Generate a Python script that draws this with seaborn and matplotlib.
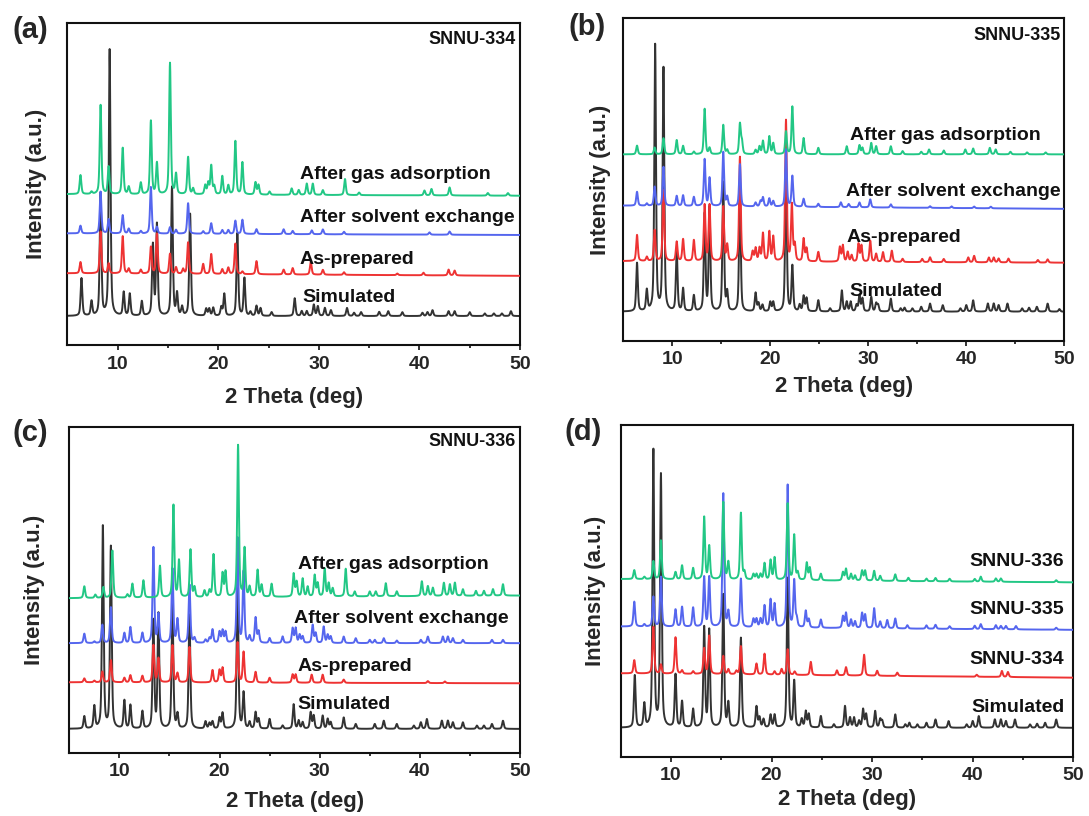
import numpy as np
import matplotlib
matplotlib.use('Agg')
import matplotlib.pyplot as plt
import seaborn as sns

sns.set_style('ticks')
plt.rcParams['font.family'] = ['Liberation Sans', 'DejaVu Sans']
plt.rcParams['font.weight'] = 'bold'
plt.rcParams['axes.labelweight'] = 'bold'

# ---- peak lists (2theta, height in axis units 0-100) ----
# panel (a) SNNU-334
A_SIM_POS = [6.4, 7.4, 8.3, 9.2, 10.6, 11.2, 12.4, 13.5, 13.9, 15.4, 15.9, 16.4, 17.2, 18.8, 19.1, 19.5,
             20.3, 20.6, 21.9, 22.6, 23.2, 23.8, 24.2, 25.3, 27.6, 28.3, 28.8, 29.5, 29.9, 30.6, 31.2,
             32.8, 33.5, 34.2, 36.0, 36.9, 38.3, 40.3, 40.8, 41.3, 42.9, 43.5, 45.0, 46.5, 47.4, 48.2, 49.1]
A_SIM_HT = [11.7, 4.5, 38, 82.7, 7.3, 6.8, 4.5, 21.9, 28.3, 40, 6.8, 2.7, 31.7, 2.2, 2.2, 2.5,
            2.7, 6.8, 25.7, 11.7, 1.2, 3.1, 2.4, 1.2, 5.5, 1.5, 1.5, 3.5, 3, 2.5, 1.8,
            2.5, 1, 1.2, 1.3, 1.5, 1.2, 1, 1.2, 1.8, 1.5, 1.5, 1.2, 0.8, 0.8, 0.8, 1.5]
A_PREP_POS = [6.3, 8.3, 9.1, 10.5, 11.1, 12.3, 13.3, 13.9, 15.2, 15.8, 16.5, 17.0, 18.5, 19.3, 20.4, 21.0,
              21.7, 22.4, 23.8, 26.5, 27.4, 29.2, 30.4, 32.5, 37.8, 40.4, 42.9, 43.5]
A_PREP_HT = [3.5, 13.0, 3.1, 11.6, 1.5, 1.2, 8.3, 12.4, 6.2, 2.0, 1.5, 9.8, 3.1, 6.2, 1.5, 2.0,
             9.5, 0.8, 4.1, 1.5, 2.0, 4.0, 1.5, 0.8, 0.5, 0.8, 1.8, 1.5]
A_SOLV_POS = [6.3, 8.3, 9.1, 10.5, 11.1, 12.3, 13.3, 13.9, 15.2, 15.8, 17.0, 18.5, 19.3, 20.4, 21.0, 21.7,
              22.4, 23.8, 26.5, 27.4, 29.3, 30.4, 32.5, 41.0, 43.0]
A_SOLV_HT = [2.4, 13.0, 4.4, 5.7, 1.5, 0.8, 14.5, 2.0, 2.0, 1.2, 9.5, 0.8, 3.3, 1.2, 1.2, 4.1,
             4.4, 1.5, 1.5, 1.0, 1.2, 1.5, 0.8, 0.7, 1.0]
A_GAS_POS = [6.3, 7.4, 8.3, 9.1, 10.5, 11.1, 12.3, 13.3, 13.9, 15.2, 15.8, 17.0, 17.5, 18.7, 19.0, 19.3,
             19.6, 20.4, 21.0, 21.7, 22.4, 23.7, 24.0, 25.1, 27.3, 28.0, 28.8, 29.4, 30.4, 32.6, 34.0,
             40.5, 41.2, 43.0, 46.8, 48.8]
A_GAS_HT = [5.9, 0.7, 27.7, 8.5, 14.4, 2.3, 3.6, 22.8, 9.7, 40.8, 6.2, 11.6, 1.8, 2.8, 3.5, 8.9,
            2.5, 5.7, 2.8, 16.6, 10.0, 3.8, 3.0, 1.0, 2.0, 1.5, 3.5, 3.5, 1.5, 5.0, 0.8,
            1.5, 2.0, 2.5, 0.8, 0.8]
A_BASE_LEFT = [9.0, 22.3, 34.7, 46.9]
A_BASE_RIGHT = [9.0, 21.5, 34.2, 46.4]

# panel (b) SNNU-335
B_SIM_POS = [6.4, 7.4, 8.25, 9.1, 10.45, 11.1, 12.2, 13.3, 13.8, 15.2, 15.6, 16.9, 18.5, 18.8, 19.2, 20.0,
             20.3, 21.6, 22.25, 23.0, 23.4, 23.7, 24.9, 26.1, 27.3, 27.8, 28.2, 28.8, 29.1, 29.4, 30.3,
             30.8, 31.0, 32.3, 33.3, 33.7, 34.5, 35.4, 36.3, 37.6, 39.4, 40.0, 40.7, 42.2, 42.8, 43.3,
             44.2, 45.7, 46.4, 47.2, 48.3, 49.5]
B_SIM_HT = [15.0, 6.4, 82.5, 75.3, 19.0, 7.0, 4.9, 30.0, 32.0, 40.0, 5.7, 38.0, 5.7, 2.5, 2.0, 2.9,
            2.9, 45.0, 14.0, 2.0, 4.7, 4.1, 3.5, 1.0, 6.5, 3.0, 3.0, 2.0, 5.0, 4.0, 4.5,
            2.5, 2.0, 4.0, 1.0, 1.2, 1.0, 1.5, 2.5, 2.0, 1.0, 2.0, 3.5, 2.5, 2.5, 2.0,
            2.5, 1.0, 1.2, 1.5, 2.5, 0.8]
B_PREP_POS = [6.4, 7.4, 8.2, 9.1, 10.45, 11.1, 12.2, 13.3, 13.8, 15.2, 15.6, 16.9, 18.2, 18.5, 18.9, 19.25,
              19.9, 20.3, 21.6, 22.2, 22.5, 23.4, 23.7, 24.9, 27.1, 27.4, 27.9, 28.3, 29.0, 29.3, 30.2,
              30.8, 31.5, 32.4, 33.5, 35.5, 36.3, 37.7, 40.2, 40.8, 42.3, 42.8, 43.3, 44.3, 47.3, 48.3]
B_PREP_HT = [8.1, 1.3, 9.6, 22.0, 6.0, 6.8, 6.5, 17.4, 17.4, 16.9, 5.0, 32.4, 3.0, 4.0, 4.0, 8.6,
             9.1, 7.6, 43.7, 17.4, 5.0, 7.0, 4.0, 3.0, 4.5, 5.0, 3.0, 2.0, 5.5, 5.0, 6.5,
             2.5, 3.0, 3.5, 1.0, 1.0, 1.5, 1.0, 1.5, 2.0, 1.5, 1.5, 1.2, 1.2, 0.8, 1.0]
B_SOLV_POS = [6.4, 7.4, 8.2, 9.1, 10.45, 11.1, 12.2, 13.3, 13.8, 15.2, 15.6, 16.9, 18.5, 19.0, 19.25, 19.9,
              20.3, 21.6, 22.25, 23.4, 24.9, 27.2, 28.0, 29.1, 30.2, 32.3, 36.3, 38.5, 40.8, 42.5]
B_SOLV_HT = [4.3, 0.7, 5.9, 12.1, 3.1, 3.3, 2.8, 14.5, 8.7, 16.8, 2.8, 13.1, 1.2, 1.7, 2.8, 2.5,
             1.7, 17.8, 9.5, 2.5, 1.0, 1.5, 1.0, 1.5, 2.5, 1.0, 0.5, 0.5, 0.5, 0.5]
B_GAS_POS = [6.4, 8.2, 9.1, 10.45, 11.1, 12.2, 13.3, 13.8, 15.2, 15.6, 16.9, 17.1, 18.5, 18.9, 19.25, 19.9,
             20.3, 21.6, 22.25, 23.4, 24.9, 27.8, 29.1, 29.4, 30.3, 30.8, 32.3, 33.5, 35.4, 36.2, 37.7,
             39.9, 40.7, 42.4, 43.0, 44.5, 46.2, 48.1]
B_GAS_HT = [2.7, 2.1, 5.0, 4.4, 2.6, 0.8, 14.1, 1.9, 9.1, 1.3, 9.3, 3.9, 1.3, 2.4, 4.1, 5.5,
            3.4, 7.0, 14.8, 5.0, 2.0, 2.5, 2.8, 2.0, 3.5, 2.5, 2.5, 1.0, 0.8, 1.5, 1.2,
            1.5, 1.8, 2.0, 1.5, 0.8, 0.6, 0.6]
B_BASE_LEFT = [9.0, 24.7, 41.9, 57.8]
B_BASE_RIGHT = [9.0, 24.2, 40.9, 57.8]

# panel (c) SNNU-336
C_SIM_POS = [6.5, 7.5, 8.35, 9.15, 10.5, 11.1, 12.3, 13.4, 13.9, 15.3, 15.8, 17.0, 18.6, 19.0, 19.3, 20.0,
             20.3, 21.8, 22.4, 23.0, 23.6, 23.9, 25.0, 26.3, 27.4, 27.9, 28.3, 29.1, 29.4, 30.3, 30.8,
             31.1, 32.4, 33.6, 35.5, 36.4, 37.7, 39.4, 40.1, 40.7, 42.2, 42.8, 43.3, 44.3, 45.7, 46.4,
             47.2, 48.3]
C_SIM_HT = [3.8, 6.8, 62.0, 55.7, 8.6, 7.2, 5.3, 33.0, 35.0, 38.0, 4.3, 35.0, 2.2, 1.7, 2.2, 3.3,
            4.8, 45.0, 10.9, 2.0, 5.0, 3.0, 3.0, 1.0, 7.5, 2.5, 2.0, 5.0, 4.0, 4.0, 3.0,
            2.0, 3.5, 1.5, 1.5, 2.5, 1.5, 1.0, 2.0, 3.0, 2.5, 2.5, 2.0, 2.0, 1.0, 1.0,
            1.5, 2.5]
C_PREP_POS = [6.5, 7.5, 8.3, 9.15, 10.5, 11.1, 12.3, 13.4, 13.9, 15.3, 15.8, 17.0, 19.3, 20.0, 20.3, 21.8,
              22.4, 23.6, 25.0, 27.3, 27.6, 29.2, 30.3, 32.4, 40.8, 42.5]
C_PREP_HT = [1.2, 0.5, 3.3, 6.8, 1.4, 2.2, 2.0, 11.4, 7.4, 11.4, 2.8, 10.9, 3.8, 3.8, 4.5, 12.3,
             9.4, 3.3, 1.5, 2.5, 2.5, 2.5, 2.5, 1.0, 0.6, 0.5]
C_SOLV_POS = [6.5, 7.5, 8.3, 9.15, 10.5, 11.1, 12.3, 13.4, 13.9, 15.3, 15.8, 17.0, 17.5, 18.6, 19.0, 19.3,
              20.0, 20.3, 20.6, 21.8, 22.4, 23.0, 23.6, 23.9, 25.0, 26.3, 27.3, 27.6, 28.0, 28.3, 29.3,
              29.6, 30.4, 30.8, 31.1, 32.4, 33.6, 35.0, 35.5, 36.4, 37.7, 40.1, 40.8, 42.3, 42.8, 43.3,
              44.3, 47.2, 48.3]
C_SOLV_HT = [2.9, 0.5, 5.6, 11.0, 3.1, 4.9, 3.1, 29.3, 8.7, 22.8, 7.2, 17.9, 1.5, 1.0, 1.5, 4.1,
             3.4, 3.8, 3.4, 32.2, 21.8, 2.0, 7.7, 3.5, 1.5, 2.0, 4.5, 4.5, 2.5, 2.0, 5.5,
             3.0, 5.0, 2.5, 2.0, 2.0, 1.5, 1.0, 1.0, 1.5, 0.8, 1.0, 2.0, 2.0, 2.0, 1.5,
             1.0, 1.0, 1.0]
C_GAS_POS = [6.5, 7.6, 8.4, 9.3, 10.8, 11.3, 12.4, 14.05, 15.4, 15.95, 17.1, 17.5, 18.5, 19.0, 19.4, 20.3,
             20.6, 21.85, 22.5, 23.0, 23.8, 24.2, 25.2, 27.4, 27.7, 28.3, 28.8, 29.5, 29.8, 30.5, 30.9,
             31.3, 32.6, 33.5, 35.0, 35.6, 36.6, 37.7, 40.2, 40.8, 41.3, 42.4, 43.0, 43.5, 44.3, 45.6,
             46.4, 47.3, 48.3]
C_GAS_HT = [3.6, 1.0, 3.3, 14.5, 1.0, 4.3, 5.3, 9.7, 28.3, 11.2, 14.6, 3.0, 2.0, 2.0, 13.1, 7.2,
            7.7, 46.5, 14.8, 3.0, 8.2, 3.6, 4.0, 7.0, 4.5, 5.5, 3.0, 6.5, 4.0, 8.5, 4.0,
            2.5, 8.5, 1.5, 1.5, 1.5, 4.0, 1.5, 4.5, 3.0, 2.5, 4.0, 3.5, 4.0, 2.0, 1.5,
            1.5, 2.0, 3.5]
C_BASE_LEFT = [7.3, 21.6, 33.6, 47.4]
C_BASE_RIGHT = [7.3, 21.3, 33.6, 48.2]

# panel (d) comparison
D_SIM_POS = [6.4, 7.35, 8.25, 9.0, 10.45, 11.1, 12.2, 13.3, 13.8, 15.2, 15.7, 16.95, 18.5, 18.8, 19.2, 19.9,
             20.3, 21.6, 22.25, 23.0, 23.4, 23.7, 24.9, 26.2, 27.3, 27.8, 28.2, 28.7, 29.1, 29.4, 30.3,
             30.8, 31.0, 32.3, 33.3, 33.7, 34.5, 35.4, 36.3, 37.6, 39.4, 40.0, 40.6, 42.2, 42.8, 43.3,
             44.2, 45.7, 46.4, 47.2, 48.3]
D_SIM_HT = [15.7, 7.0, 83.3, 75.9, 15.9, 7.8, 5.5, 30.0, 29.2, 40.0, 7.2, 27.0, 6.3, 3.0, 2.5, 3.8,
            3.8, 45.0, 13.9, 2.5, 4.8, 4.0, 3.5, 1.0, 6.5, 3.0, 3.0, 2.0, 5.5, 4.0, 5.0,
            2.5, 2.0, 4.0, 1.0, 1.5, 1.0, 1.5, 2.5, 2.0, 1.0, 2.0, 3.5, 2.5, 2.5, 2.0,
            2.5, 1.0, 1.2, 1.5, 2.5]
D_334_POS = [6.35, 8.25, 9.0, 10.45, 11.1, 12.2, 13.3, 13.8, 15.2, 15.7, 16.5, 16.95, 18.5, 19.3, 20.3, 21.0,
             21.6, 22.3, 23.9, 26.5, 27.4, 29.2, 30.5, 32.5, 40.4, 42.9, 43.5]
D_334_HT = [4.0, 14.1, 2.7, 11.0, 1.0, 0.8, 7.7, 11.5, 5.5, 1.5, 1.0, 8.5, 3.3, 6.3, 1.0, 1.7,
            7.7, 1.0, 4.0, 1.5, 2.5, 6.3, 1.5, 1.0, 0.6, 1.8, 1.5]
D_335_POS = [6.35, 7.35, 8.25, 9.0, 10.45, 11.1, 12.2, 13.3, 13.8, 15.2, 15.7, 16.95, 18.2, 18.5, 18.9, 19.3,
             19.9, 20.3, 21.6, 22.25, 22.5, 23.4, 23.7, 24.9, 27.1, 27.4, 27.9, 28.3, 29.0, 29.3, 30.2,
             30.8, 31.5, 32.3, 33.5, 35.4, 36.3, 37.7, 40.2, 40.8, 42.3, 42.8, 43.3, 44.3, 48.3]
D_335_HT = [7.5, 0.7, 9.0, 15.0, 5.2, 6.0, 5.8, 15.0, 15.0, 40.2, 4.5, 14.6, 2.5, 2.5, 2.5, 6.5,
            8.3, 7.0, 42.9, 14.0, 2.5, 5.0, 2.5, 2.5, 3.5, 4.5, 2.5, 2.0, 4.5, 4.0, 6.0,
            2.0, 2.5, 3.0, 1.0, 1.0, 1.2, 0.8, 1.0, 1.5, 1.2, 1.0, 1.0, 1.0, 0.6]
D_336_POS = [6.35, 7.35, 8.25, 9.0, 10.45, 11.1, 12.2, 13.3, 13.8, 15.2, 15.7, 16.95, 17.3, 18.2, 18.5, 18.9,
             19.3, 19.9, 20.3, 21.6, 22.25, 22.6, 23.5, 23.8, 24.9, 27.1, 27.4, 27.9, 28.3, 29.0, 29.3,
             30.2, 30.8, 32.3, 33.6, 35.4, 36.3, 37.7, 40.2, 40.8, 42.3, 42.8, 48.3]
D_336_HT = [2.7, 0.7, 5.4, 11.7, 2.2, 4.2, 3.4, 18.8, 10.0, 23.3, 5.2, 20.1, 2.2, 1.7, 1.7, 1.7,
            5.0, 5.9, 6.7, 23.0, 13.5, 2.2, 5.2, 3.7, 2.0, 2.5, 3.5, 2.0, 1.5, 3.0, 3.0,
            3.0, 1.5, 2.0, 1.0, 0.8, 1.0, 0.8, 0.8, 1.5, 1.0, 1.0, 0.6]
D_BASE_LEFT = [8.7, 25.1, 39.2, 53.5]
D_BASE_RIGHT = [8.7, 23.8, 38.2, 52.5]

A_LABELS = ['Simulated', 'As-prepared', 'After solvent exchange', 'After gas adsorption']
D_LABELS = ['Simulated', 'SNNU-334', 'SNNU-335', 'SNNU-336']
COLORS = ['#333333', '#EE3333', '#5566EE', '#22C785']

# ---- layout (pixels in the 1089x816 figure) ----
FIG_W, FIG_H = 1089, 816
PANELS = [
    dict(letter='(a)', box=(67.4, 23.3, 520, 345), title='SNNU-334', title_y=95.0,
         series=[(A_SIM_POS, A_SIM_HT), (A_PREP_POS, A_PREP_HT), (A_SOLV_POS, A_SOLV_HT), (A_GAS_POS, A_GAS_HT)],
         base=(A_BASE_LEFT, A_BASE_RIGHT), labels=A_LABELS,
         label_x=[28.35, 28.1, 28.1, 28.1], label_y=[14.9, 26.6, 39.5, 53.1], ha='left',
         letter_xy=(30, 30), ylab_dx=31, xlab_dy=52),
    dict(letter='(b)', box=(623.3, 18.3, 1064.3, 340.7), title='SNNU-335', title_y=94.8,
         series=[(B_SIM_POS, B_SIM_HT), (B_PREP_POS, B_PREP_HT), (B_SOLV_POS, B_SOLV_HT), (B_GAS_POS, B_GAS_HT)],
         base=(B_BASE_LEFT, B_BASE_RIGHT), labels=A_LABELS,
         label_x=[28.1, 27.75, 27.75, 28.1], label_y=[15.4, 31.9, 46.2, 63.7], ha='left',
         letter_xy=(587, 27), ylab_dx=23, xlab_dy=46),
    dict(letter='(c)', box=(69.3, 426.7, 520, 752.7), title='SNNU-336', title_y=95.4,
         series=[(C_SIM_POS, C_SIM_HT), (C_PREP_POS, C_PREP_HT), (C_SOLV_POS, C_SOLV_HT), (C_GAS_POS, C_GAS_HT)],
         base=(C_BASE_LEFT, C_BASE_RIGHT), labels=A_LABELS,
         label_x=[27.8, 27.8, 27.4, 27.8], label_y=[14.7, 26.4, 41.3, 57.6], ha='left',
         letter_xy=(30, 433), ylab_dx=34.6, xlab_dy=49),
    dict(letter='(d)', box=(620.7, 424.6, 1073.3, 756.7), title=None, title_y=None,
         series=[(D_SIM_POS, D_SIM_HT), (D_334_POS, D_334_HT), (D_335_POS, D_335_HT), (D_336_POS, D_336_HT)],
         base=(D_BASE_LEFT, D_BASE_RIGHT), labels=D_LABELS,
         label_x=[49.1, 49.1, 49.1, 49.1], label_y=[14.9, 29.4, 44.2, 58.7], ha='right',
         letter_xy=(583, 432), ylab_dx=25.4, xlab_dy=43),
]

HWHM = 0.1
theta = np.arange(5.0, 50.0001, 0.01)


def pattern(pos, ht, b_left, b_right):
    """Sum of pseudo-Voigt peaks on a straight baseline."""
    y = b_left + (b_right - b_left) * (theta - 5.0) / 45.0
    for p, h in zip(pos, ht, strict=True):
        d = (theta - p) / HWHM
        y = y + h * (0.5 / (1 + d * d) + 0.5 * np.exp(-np.log(2) * d * d))
    return y


fig = plt.figure(figsize=(FIG_W / 100, FIG_H / 100), dpi=100)

for panel in PANELS:
    x0, y0, x1, y1 = panel['box']
    w_px, h_px = x1 - x0, y1 - y0
    ax = fig.add_axes([x0 / FIG_W, 1 - y1 / FIG_H, w_px / FIG_W, h_px / FIG_H])

    b_left, b_right = panel['base']
    for i, (pos, ht) in enumerate(panel['series']):
        y = pattern(pos, ht, b_left[i], b_right[i])
        sns.lineplot(x=theta, y=y, ax=ax, color=COLORS[i], linewidth=1.4,
                     estimator=None, sort=False, zorder=2 + i)

    for i, lab in enumerate(panel['labels']):
        ax.text(panel['label_x'][i], panel['label_y'][i], lab, ha=panel['ha'], va='center',
                fontsize=14, fontweight='bold', color='#111111', zorder=10)

    if panel['title']:
        ax.text(49.6, panel['title_y'], panel['title'], ha='right', va='center',
                fontsize=13, fontweight='bold', color='#111111')

    ax.set_xlim(5, 50)
    ax.set_ylim(0, 100)
    ax.set_yticks([])
    ax.set_xticks([10, 20, 30, 40, 50])
    ax.set_xticks([15, 25, 35, 45], minor=True)
    ax.tick_params(axis='x', which='major', direction='out', length=3.6, width=1.2,
                   labelsize=14, pad=4, color='#111111')
    ax.tick_params(axis='x', which='minor', direction='out', length=2.2, width=1.2, color='#111111')
    for lbl in ax.get_xticklabels():
        lbl.set_fontweight('bold')
    for sp in ax.spines.values():
        sp.set_linewidth(1.5)
        sp.set_color('#111111')

    ax.set_xlabel('2 Theta (deg)', fontsize=16, fontweight='bold', va='center')
    ax.xaxis.set_label_coords(0.5, -panel['xlab_dy'] / h_px)
    ax.set_ylabel('Intensity (a.u.)', fontsize=16, fontweight='bold', va='center')
    ax.yaxis.set_label_coords(-panel['ylab_dx'] / w_px, 0.5)

    lx, ly = panel['letter_xy']
    fig.text(lx / FIG_W, 1 - ly / FIG_H, panel['letter'], ha='center', va='center',
             fontsize=21, fontweight='bold')

fig.savefig('out.png', dpi=100)
